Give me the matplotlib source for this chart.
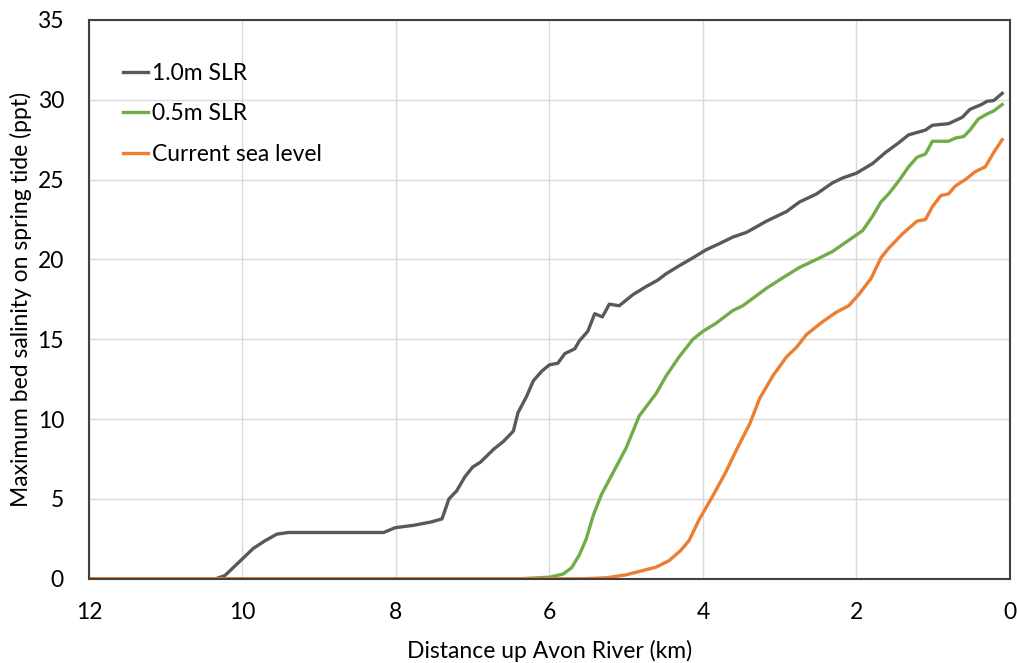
import numpy as np
import matplotlib
matplotlib.use('Agg')
import matplotlib.pyplot as plt
from matplotlib import rcParams
rcParams.update({'font.family': 'Lato', 'font.size': 16.5})

# distance up river (km) and max bed salinity (ppt)
x_slr10 = [12, 10.35, 10.23, 10.12, 9.99, 9.86, 9.70, 9.55, 9.40, 8.16, 8.01, 7.77, 7.55, 7.40,
           7.31, 7.21, 7.10, 7.00, 6.90, 6.73, 6.60, 6.47, 6.41, 6.30, 6.21, 6.10, 6.00, 5.89,
           5.80, 5.67, 5.61, 5.50, 5.41, 5.31, 5.22, 5.09, 4.91, 4.74, 4.59, 4.48, 4.31, 4.13,
           3.96, 3.78, 3.61, 3.43, 3.17, 2.91, 2.74, 2.52, 2.31, 2.18, 2.00, 1.79, 1.62, 1.45,
           1.32, 1.10, 1.01, 0.80, 0.62, 0.52, 0.37, 0.30, 0.21, 0.10]
y_slr10 = [0, 0, 0.2, 0.7, 1.3, 1.9, 2.4, 2.8, 2.9, 2.9, 3.2, 3.35, 3.55, 3.75,
           5.0, 5.5, 6.4, 7.0, 7.3, 8.1, 8.6, 9.25, 10.4, 11.4, 12.4, 13.0, 13.4, 13.5,
           14.1, 14.4, 14.9, 15.5, 16.6, 16.4, 17.2, 17.1, 17.8, 18.3, 18.7, 19.1, 19.6, 20.1,
           20.6, 21.0, 21.4, 21.7, 22.4, 23.0, 23.6, 24.1, 24.8, 25.1, 25.4, 26.0, 26.7, 27.3,
           27.8, 28.1, 28.4, 28.5, 28.9, 29.4, 29.7, 29.9, 29.95, 30.4]

x_slr05 = [12, 6.4, 6.0, 5.82, 5.71, 5.61, 5.52, 5.43, 5.32, 5.22, 5.0, 4.83, 4.61, 4.48,
           4.31, 4.13, 4.0, 3.83, 3.61, 3.48, 3.17, 2.91, 2.74, 2.52, 2.31, 2.10, 1.92, 1.79,
           1.68, 1.58, 1.45, 1.32, 1.21, 1.10, 1.01, 0.93, 0.80, 0.71, 0.60, 0.52, 0.41, 0.30,
           0.21, 0.10]
y_slr05 = [0, 0, 0.1, 0.3, 0.7, 1.5, 2.5, 3.95, 5.3, 6.2, 8.2, 10.2, 11.6, 12.7,
           13.9, 15.0, 15.5, 16.0, 16.8, 17.1, 18.2, 19.0, 19.5, 20.0, 20.5, 21.2, 21.8, 22.7,
           23.6, 24.1, 24.9, 25.8, 26.4, 26.6, 27.4, 27.4, 27.4, 27.6, 27.7, 28.1, 28.8, 29.1,
           29.3, 29.7]

x_cur = [12, 5.6, 5.26, 5.0, 4.83, 4.61, 4.44, 4.29, 4.18, 4.05, 3.87, 3.70, 3.56, 3.39,
         3.26, 3.09, 2.91, 2.78, 2.65, 2.44, 2.26, 2.10, 1.97, 1.81, 1.68, 1.58, 1.40, 1.21,
         1.10, 1.01, 0.90, 0.80, 0.71, 0.58, 0.45, 0.32, 0.21, 0.10]
y_cur = [0, 0, 0.06, 0.25, 0.46, 0.73, 1.14, 1.77, 2.4, 3.7, 5.2, 6.7, 8.1, 9.7,
         11.3, 12.7, 13.9, 14.5, 15.3, 16.1, 16.7, 17.1, 17.8, 18.8, 20.1, 20.7, 21.6, 22.4,
         22.5, 23.3, 24.0, 24.1, 24.6, 25.0, 25.5, 25.8, 26.7, 27.5]

fig = plt.figure(figsize=(10.17, 6.63), dpi=100)
ax = fig.add_axes([0.0875, 0.127, 0.9055, 0.843])

ax.plot(x_slr10, y_slr10, c='#595959', lw=2.4, label='1.0m SLR')
ax.plot(x_slr05, y_slr05, c='#70ad47', lw=2.4, label='0.5m SLR')
ax.plot(x_cur, y_cur, c='#ed7d31', lw=2.4, label='Current sea level')

ax.set_xlim([12, 0])
ax.set_ylim([0, 35])
ax.set_xticks(np.arange(12, -1, -2))
ax.set_yticks(np.arange(0, 36, 5))
ax.grid(True, color='#d9d9d9', lw=1)
ax.set_axisbelow(True)
ax.tick_params(axis='x', length=0, pad=17)
ax.tick_params(axis='y', length=0, pad=18)
for s in ax.spines.values():
    s.set_color('#404040')
    s.set_linewidth(1.5)

ax.set_xlabel('Distance up Avon River (km)', labelpad=12)
ax.set_ylabel('Maximum bed salinity on spring tide (ppt)', labelpad=4)

ax.legend(loc='upper left', bbox_to_anchor=(0.014, 0.96), frameon=False,
          handlelength=1.1, handletextpad=0.2, labelspacing=0.85)

plt.savefig('out.png', dpi=100)
